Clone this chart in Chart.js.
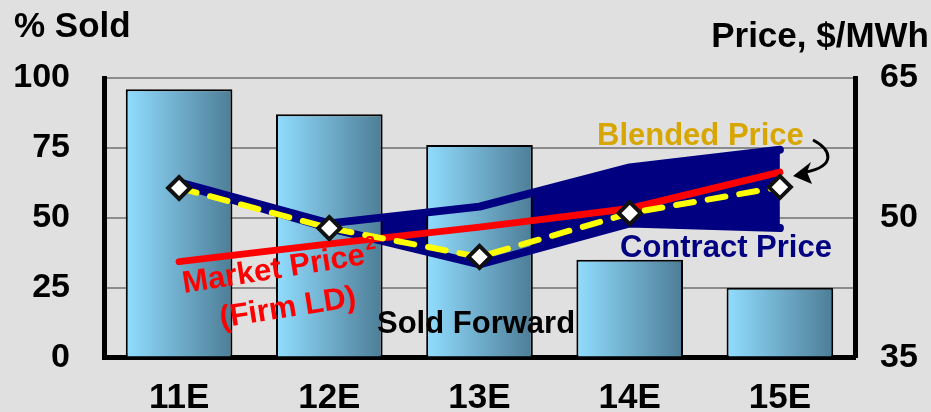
<!DOCTYPE html>
<html>
<head>
<meta charset="utf-8">
<script src="https://cdn.jsdelivr.net/npm/chart.js@4.4.0/dist/chart.umd.min.js"></script>
<style>
  body { margin: 0; background: #e0e0e0; }
  #wrap { width: 931px; height: 412px; }
</style>
</head>
<body>
<div id="wrap"><canvas id="mycanvas" width="931" height="412"></canvas></div>
<script>
var years = ["11E", "12E", "13E", "14E", "15E"];
var soldForward = [96, 87, 76, 35, 25];          // % sold, left axis
var contractHigh = [53.8, 49.4, 51.2, 55.4, 57.3]; // $/MWh, right axis
var contractLow = [53.6, 48.9, 45.0, 49.4, 48.9];
var marketPrice = [45.3, 47.2, 49.0, 51.0, 54.9];
var blendedPrice = [53.2, 48.9, 45.8, 50.5, 53.3];
var pctTicks = [0, 25, 50, 75, 100];
var priceTicks = [35, 50, 65];

var BAR_PCT = 0.71;
var FONT = "'Liberation Sans', Arial, sans-serif";

function barFill(c) {
  var chart = c.chart;
  var x = chart.scales.x;
  if (!x || !chart.chartArea || c.dataIndex === undefined) return "#76b8d8";
  var cx = x.getPixelForValue(c.dataIndex);
  var half = x.width / years.length * BAR_PCT / 2;
  var g = chart.ctx.createLinearGradient(cx - half, 0, cx + half, 0);
  g.addColorStop(0, "#91ddff");
  g.addColorStop(1, "#4d7d96");
  return g;
}

var labelsPlugin = {
  id: "labels",
  afterDraw: function(chart) {
    var ctx = chart.ctx;
    ctx.save();
    ctx.textBaseline = "alphabetic";
    ctx.fillStyle = "#000";
    ctx.font = "bold 35px " + FONT;
    ctx.textAlign = "left";
    ctx.fillText("% Sold", 14, 37);
    ctx.textAlign = "right";
    ctx.fillText("Price, $/MWh", 929, 47);

    ctx.font = "bold 31px " + FONT;
    ctx.textAlign = "left";
    ctx.fillStyle = "#d8a600";
    ctx.fillText("Blended Price", 597, 145);
    ctx.fillStyle = "#000080";
    ctx.fillText("Contract Price", 620, 257);
    ctx.fillStyle = "#000";
    ctx.fillText("Sold Forward", 377, 333);

    // market price label, tilted
    ctx.fillStyle = "#ff0000";
    ctx.save();
    ctx.translate(184, 293);
    ctx.rotate(-9 * Math.PI / 180);
    ctx.fillText("Market Price", 0, 0);
    var w = ctx.measureText("Market Price").width;
    ctx.font = "bold 19px " + FONT;
    ctx.fillText("2", w + 2, -14);
    ctx.font = "bold 31px " + FONT;
    ctx.textAlign = "center";
    ctx.fillText("(Firm LD)", w / 2 + 8, 40);
    ctx.restore();

    // curved arrow from "Blended Price" to the last diamond
    ctx.strokeStyle = "#000";
    ctx.lineWidth = 3;
    ctx.beginPath();
    ctx.moveTo(813, 140);
    ctx.bezierCurveTo(832, 150, 836, 166, 806, 172);
    ctx.stroke();
    ctx.fillStyle = "#000";
    ctx.beginPath();
    ctx.moveTo(793, 176);
    ctx.lineTo(811, 162);
    ctx.lineTo(807, 172);
    ctx.lineTo(812, 184);
    ctx.closePath();
    ctx.fill();
    ctx.restore();
  }
};

var ctx = document.getElementById("mycanvas");

var chart = new Chart(ctx, {
  data: {
    labels: years,
    datasets: [
      {
        type: "line",
        label: "band high",
        data: contractHigh,
        yAxisID: "price",
        borderWidth: 0,
        pointRadius: 0,
        backgroundColor: "#000080",
        fill: "+1",
        order: 10
      },
      {
        type: "line",
        label: "band low",
        data: contractLow,
        yAxisID: "price",
        borderWidth: 0,
        pointRadius: 0,
        fill: false,
        order: 10
      },
      {
        type: "bar",
        label: "Sold Forward",
        data: soldForward,
        yAxisID: "pct",
        backgroundColor: barFill,
        borderColor: "#000",
        borderWidth: 2,
        barPercentage: BAR_PCT,
        categoryPercentage: 1,
        order: 5
      },
      {
        type: "line",
        label: "Contract High",
        data: contractHigh,
        yAxisID: "price",
        borderColor: "#000080",
        borderWidth: 8,
        borderCapStyle: "round",
        borderJoinStyle: "round",
        pointRadius: 0,
        fill: false,
        order: 3
      },
      {
        type: "line",
        label: "Contract Low",
        data: contractLow,
        yAxisID: "price",
        borderColor: "#000080",
        borderWidth: 8,
        borderCapStyle: "round",
        borderJoinStyle: "round",
        pointRadius: 0,
        fill: false,
        order: 3
      },
      {
        type: "line",
        label: "Market Price",
        data: marketPrice,
        yAxisID: "price",
        borderColor: "#ff0000",
        borderWidth: 7,
        borderCapStyle: "round",
        borderJoinStyle: "round",
        pointRadius: 0,
        fill: false,
        order: 2
      },
      {
        type: "line",
        label: "Blended Price",
        data: blendedPrice,
        yAxisID: "price",
        borderColor: "#ffff00",
        borderWidth: 6,
        borderDash: [18, 14],
        borderCapStyle: "round",
        pointStyle: "rectRot",
        pointRadius: 11,
        pointBackgroundColor: "#fff",
        pointBorderColor: "#111",
        pointBorderWidth: 4,
        fill: false,
        order: 1
      }
    ]
  },
  options: {
    responsive: false,
    animation: false,
    layout: { padding: { top: 78 } },
    plugins: {
      legend: { display: false },
      tooltip: { enabled: false }
    },
    scales: {
      x: {
        grid: { display: false, drawTicks: false },
        border: { color: "#000", width: 5 },
        ticks: { color: "#000", font: { family: FONT, size: 35, weight: "bold" }, padding: 20 },
        afterFit: function(s) { s.height = 54; }
      },
      pct: {
        position: "left",
        min: 0,
        max: 100,
        afterBuildTicks: function(s) { s.ticks = pctTicks.map(function(v) { return { value: v }; }); },
        grid: { color: "#8c8c8c", lineWidth: 2, drawTicks: false },
        border: { color: "#000", width: 5 },
        ticks: { color: "#000", font: { family: FONT, size: 34, weight: "bold" }, padding: 34 },
        afterFit: function(s) { s.width = 104; }
      },
      price: {
        position: "right",
        min: 35,
        max: 65,
        afterBuildTicks: function(s) { s.ticks = priceTicks.map(function(v) { return { value: v }; }); },
        grid: { display: false, drawTicks: false },
        border: { color: "#000", width: 5 },
        ticks: { color: "#000", font: { family: FONT, size: 34, weight: "bold" }, padding: 25 },
        afterFit: function(s) { s.width = 76; }
      }
    }
  },
  plugins: [labelsPlugin]
});
</script>
</body>
</html>
